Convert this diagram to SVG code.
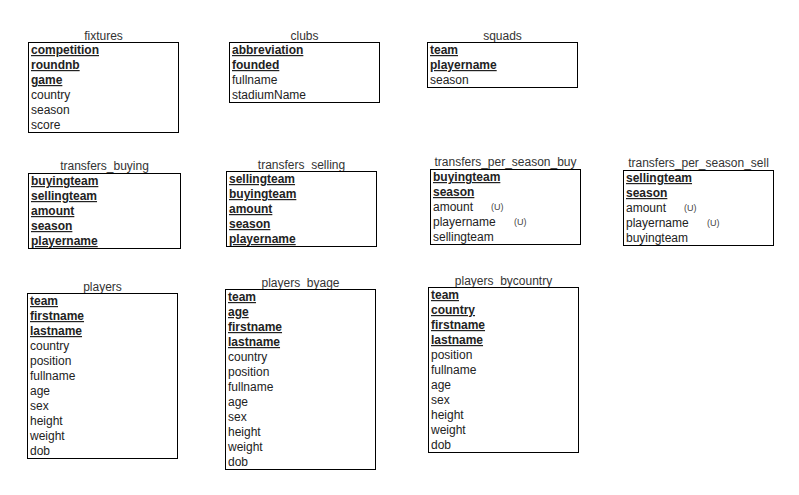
<svg xmlns="http://www.w3.org/2000/svg" width="799" height="495" viewBox="0 0 799 495">
  <style>
    text { font-family: "Liberation Sans", Arial, Helvetica, sans-serif; font-size: 12px; fill: #222; }
    .title { text-anchor: middle; fill: #333; }
    .key { font-weight: bold; text-decoration: underline; }
    .u { font-size: 9px; fill: #444; }
    rect.tbl { fill: #fff; stroke: #000; stroke-width: 1; }
  </style>
  <rect width="799" height="495" fill="#fff"/>

  <g id="fixtures">
    <text class="title" x="103.5" y="40">fixtures</text>
    <rect class="tbl" x="28.5" y="42.5" width="150" height="90"/>
    <text class="key" x="31" y="54">competition</text>
    <text class="key" x="31" y="69">roundnb</text>
    <text class="key" x="31" y="84">game</text>
    <text x="31" y="99">country</text>
    <text x="31" y="114">season</text>
    <text x="31" y="129">score</text>
  </g>

  <g id="clubs">
    <text class="title" x="304.5" y="40">clubs</text>
    <rect class="tbl" x="229.5" y="42.5" width="150" height="60"/>
    <text class="key" x="232" y="54">abbreviation</text>
    <text class="key" x="232" y="69">founded</text>
    <text x="232" y="84">fullname</text>
    <text x="232" y="99">stadiumName</text>
  </g>

  <g id="squads">
    <text class="title" x="502.5" y="40">squads</text>
    <rect class="tbl" x="427.5" y="42.5" width="150" height="45"/>
    <text class="key" x="430" y="54">team</text>
    <text class="key" x="430" y="69">playername</text>
    <text x="430" y="84">season</text>
  </g>

  <g id="transfers_buying">
    <text class="title" x="104.5" y="170">transfers_buying</text>
    <rect class="tbl" x="28.5" y="173.5" width="152" height="75"/>
    <text class="key" x="31" y="185">buyingteam</text>
    <text class="key" x="31" y="200">sellingteam</text>
    <text class="key" x="31" y="215">amount</text>
    <text class="key" x="31" y="230">season</text>
    <text class="key" x="31" y="245">playername</text>
  </g>

  <g id="transfers_selling">
    <text class="title" x="301.5" y="169">transfers_selling</text>
    <rect class="tbl" x="226.5" y="171.5" width="150" height="75"/>
    <text class="key" x="229" y="183">sellingteam</text>
    <text class="key" x="229" y="198">buyingteam</text>
    <text class="key" x="229" y="213">amount</text>
    <text class="key" x="229" y="228">season</text>
    <text class="key" x="229" y="243">playername</text>
  </g>

  <g id="transfers_per_season_buy">
    <text class="title" x="505.5" y="166">transfers_per_season_buy</text>
    <rect class="tbl" x="430.5" y="169.5" width="150" height="75"/>
    <text class="key" x="433" y="181">buyingteam</text>
    <text class="key" x="433" y="196">season</text>
    <text x="433" y="211">amount</text>
    <text class="u" x="491" y="210">(U)</text>
    <text x="433" y="226">playername</text>
    <text class="u" x="514" y="225">(U)</text>
    <text x="433" y="241">sellingteam</text>
  </g>

  <g id="transfers_per_season_sell">
    <text class="title" x="698.5" y="167">transfers_per_season_sell</text>
    <rect class="tbl" x="623.5" y="170.5" width="150" height="75"/>
    <text class="key" x="626" y="182">sellingteam</text>
    <text class="key" x="626" y="197">season</text>
    <text x="626" y="212">amount</text>
    <text class="u" x="684" y="211">(U)</text>
    <text x="626" y="227">playername</text>
    <text class="u" x="707" y="226">(U)</text>
    <text x="626" y="242">buyingteam</text>
  </g>

  <g id="players">
    <text class="title" x="102.5" y="291">players</text>
    <rect class="tbl" x="27.5" y="293.5" width="150" height="165"/>
    <text class="key" x="30" y="305">team</text>
    <text class="key" x="30" y="320">firstname</text>
    <text class="key" x="30" y="335">lastname</text>
    <text x="30" y="350">country</text>
    <text x="30" y="365">position</text>
    <text x="30" y="380">fullname</text>
    <text x="30" y="395">age</text>
    <text x="30" y="410">sex</text>
    <text x="30" y="425">height</text>
    <text x="30" y="440">weight</text>
    <text x="30" y="455">dob</text>
  </g>

  <g id="players_byage">
    <text class="title" x="300.5" y="287">players_byage</text>
    <rect class="tbl" x="225.5" y="289.5" width="150" height="180"/>
    <text class="key" x="228" y="301">team</text>
    <text class="key" x="228" y="316">age</text>
    <text class="key" x="228" y="331">firstname</text>
    <text class="key" x="228" y="346">lastname</text>
    <text x="228" y="361">country</text>
    <text x="228" y="376">position</text>
    <text x="228" y="391">fullname</text>
    <text x="228" y="406">age</text>
    <text x="228" y="421">sex</text>
    <text x="228" y="436">height</text>
    <text x="228" y="451">weight</text>
    <text x="228" y="466">dob</text>
  </g>

  <g id="players_bycountry">
    <text class="title" x="503.5" y="285">players_bycountry</text>
    <rect class="tbl" x="428.5" y="287.5" width="150" height="165"/>
    <text class="key" x="431" y="299">team</text>
    <text class="key" x="431" y="314">country</text>
    <text class="key" x="431" y="329">firstname</text>
    <text class="key" x="431" y="344">lastname</text>
    <text x="431" y="359">position</text>
    <text x="431" y="374">fullname</text>
    <text x="431" y="389">age</text>
    <text x="431" y="404">sex</text>
    <text x="431" y="419">height</text>
    <text x="431" y="434">weight</text>
    <text x="431" y="449">dob</text>
  </g>

  <g id="connectors"/>
</svg>
